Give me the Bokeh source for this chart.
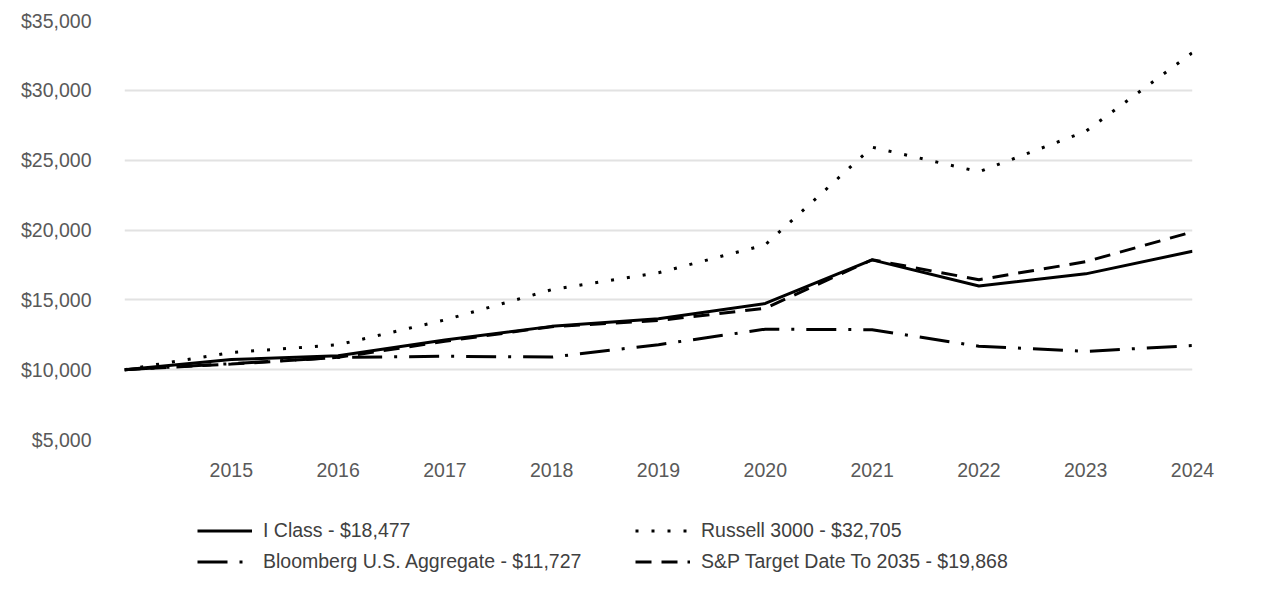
from bokeh.plotting import figure
from bokeh.layouts import column
from bokeh.models import Legend, LegendItem, NumeralTickFormatter, FixedTicker, Range1d
from bokeh.embed import file_html
from bokeh.resources import INLINE

years = [2014, 2015, 2016, 2017, 2018, 2019, 2020, 2021, 2022, 2023, 2024]
i_class = [10000, 10720, 11000, 12120, 13100, 13650, 14740, 17860, 15990, 16860, 18477]
russell = [10000, 11230, 11780, 13560, 15730, 16940, 18940, 25930, 24170, 27060, 32705]
bloomberg = [10000, 10430, 10880, 10960, 10900, 11790, 12900, 12860, 11680, 11310, 11727]
sp_target = [10000, 10400, 10880, 12030, 13080, 13520, 14400, 17870, 16440, 17730, 19868]

labels = ["I Class - $18,477", "Russell 3000 - $32,705",
          "Bloomberg U.S. Aggregate - $11,727", "S&P Target Date To 2035 - $19,868"]
x_ticks = years[1:]
y_ticks = [5000, 10000, 15000, 20000, 25000, 30000, 35000]

FONT = "Liberation Sans"
FS = "19.5px"

SERIES = [i_class, russell, bloomberg, sp_target]
STYLES = [dict(line_color="black", line_width=3, line_join="round"),
          dict(line_color="black", line_width=3, line_dash="3 13"),
          dict(line_color="black", line_width=3, line_dash="30 12 3 12"),
          dict(line_color="black", line_width=3, line_dash="16 10")]

p = figure(width=1280, height=500, output_backend="svg", toolbar_location=None,
           x_range=Range1d(2014, 2024), y_range=Range1d(5000, 35000),
           min_border_left=124, min_border_right=88, min_border_top=20, min_border_bottom=61)
p.outline_line_color = None
p.xgrid.grid_line_color = None
p.ygrid.grid_line_color = "#e2e2e2"
p.ygrid.grid_line_width = 2

p.xaxis.ticker = FixedTicker(ticks=x_ticks)
p.yaxis.ticker = FixedTicker(ticks=y_ticks)
p.yaxis.formatter = NumeralTickFormatter(format="$0,0")
for ax in (p.xaxis, p.yaxis):
    ax.axis_line_color = None
    ax.major_tick_line_color = None
    ax.minor_tick_line_color = None
    ax.major_label_text_font = FONT
    ax.major_label_text_font_size = FS
    ax.major_label_text_color = "#595959"
p.xaxis.major_label_standoff = 17
p.yaxis.major_label_standoff = 27

for ys, st in zip(SERIES, STYLES):
    p.line(years, ys, **st)

# legend strip as a separate figure below (series drawn outside its visible range)
lf = figure(width=1280, height=86, output_backend="svg", toolbar_location=None,
            x_axis_location=None, y_axis_location=None,
            x_range=Range1d(0, 1), y_range=Range1d(0, 1),
            min_border_left=0, min_border_right=0, min_border_top=0, min_border_bottom=0)
lf.grid.visible = False
lf.outline_line_color = None
lrs = [lf.line(years, ys, **st) for ys, st in zip(SERIES, STYLES)]

order = [0, 2, 1, 3]  # row-major: I Class, Russell / Bloomberg, S&P
legend = Legend(items=[LegendItem(label=labels[i], renderers=[lrs[i]]) for i in order],
                ncols=2, location=(73, 12))
legend.border_line_color = None
legend.background_fill_alpha = 0
legend.padding = 0
legend.margin = 0
legend.spacing = 6
legend.glyph_width = 55
legend.glyph_height = 25
legend.label_height = 25
legend.label_width = 366
legend.label_standoff = 11
legend.label_text_font = FONT
legend.label_text_font_size = FS
legend.label_text_color = "#404040"
lf.add_layout(legend, "center")

layout = column(p, lf, spacing=0)
open("out.html", "w").write(file_html(layout, INLINE))
